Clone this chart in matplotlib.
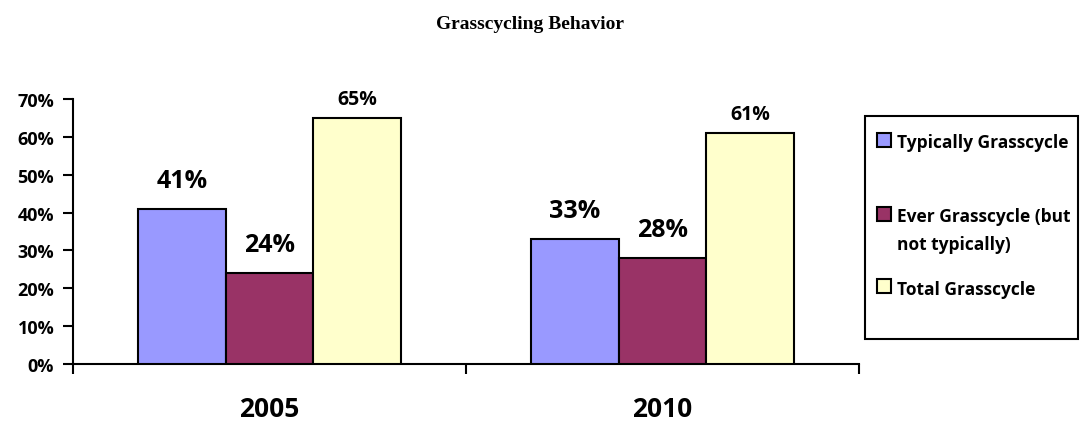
import matplotlib
matplotlib.use("Agg")
import matplotlib.pyplot as plt
import numpy as np
from matplotlib.patches import Rectangle

years = ["2005", "2010"]
series = ["Typically Grasscycle", "Ever Grasscycle (but\nnot typically)", "Total Grasscycle"]
values = [
    [0.41, 0.33],
    [0.24, 0.28],
    [0.65, 0.61],
]
colors = ["#9999FF", "#993366", "#FFFFCC"]
label_sizes = [18, 18, 14]
label_gaps = [16, 16, 10]

plt.rcParams['font.family'] = ['Open Sans', 'DejaVu Sans']
plt.rcParams['font.weight'] = 'bold'

W, H = 1081, 427
fig = plt.figure(figsize=(W / 100, H / 100), dpi=100)
ax = fig.add_axes([73 / W, 1 - 365 / H, (859 - 73) / W, (365 - 100) / H])

def fx(px):
    return px / W

def fy(py):
    return 1 - py / H

x = np.arange(len(years))
w = 0.2225
for i, (vals, c) in enumerate(zip(values, colors)):
    pos = x + (i - 1) * w
    bars = ax.bar(pos, vals, w, color=c, edgecolor='black', linewidth=1.5, zorder=3)
    for b, v in zip(bars, vals):
        ax.annotate(f"{round(v * 100)}%", (b.get_x() + b.get_width() / 2, v),
                    xytext=(0, label_gaps[i]), textcoords='offset points',
                    ha='center', va='baseline', fontsize=label_sizes[i], fontweight='bold')

ax.set_xlim(-0.5, 1.5)
ax.set_ylim(0, 0.7)
yt = np.arange(0, 0.71, 0.1)
ax.set_yticks(yt)
ax.set_yticklabels([f"{int(round(t * 100))}%" for t in yt], fontsize=13, fontweight='bold')
ax.set_xticks([-0.5, 0.5, 1.5])
ax.set_xticklabels([])
ax.set_xticks(x, minor=True)
ax.set_xticklabels(years, minor=True, fontsize=19, fontweight='bold')
ax.tick_params(axis='x', which='major', length=7.5, width=1.5, direction='out')
ax.tick_params(axis='x', which='minor', length=0, pad=22)
ax.tick_params(axis='y', length=7.5, width=1.5, direction='out', pad=6)

for s in ['top', 'right']:
    ax.spines[s].set_visible(False)
for s in ['left', 'bottom']:
    ax.spines[s].set_linewidth(1.5)

# legend box drawn by hand to match the original spacing
fig.add_artist(Rectangle((fx(865), fy(340)), fx(1078) - fx(865), fy(117) - fy(340),
                         transform=fig.transFigure, facecolor='white', edgecolor='black',
                         linewidth=1.5))
key_y = [141, 215, 287]
text_base = [148, 222, 295]
for c, lab, ky, tb in zip(colors, series, key_y, text_base):
    fig.add_artist(Rectangle((fx(877), fy(ky + 7)), fx(891) - fx(877), fy(ky - 7) - fy(ky + 7),
                             transform=fig.transFigure, facecolor=c, edgecolor='black',
                             linewidth=1.5))
    lines = lab.split("\n")
    for j, ln in enumerate(lines):
        fig.text(fx(897), fy(tb + 28 * j), ln, ha='left', va='baseline',
                 fontsize=12.5, fontweight='bold')

fig.text(fx(530), fy(29), "Grasscycling Behavior", ha='center', va='baseline',
         fontsize=14, fontweight='bold', family=['Liberation Serif', 'DejaVu Serif'])

fig.savefig("out.png", dpi=100)
